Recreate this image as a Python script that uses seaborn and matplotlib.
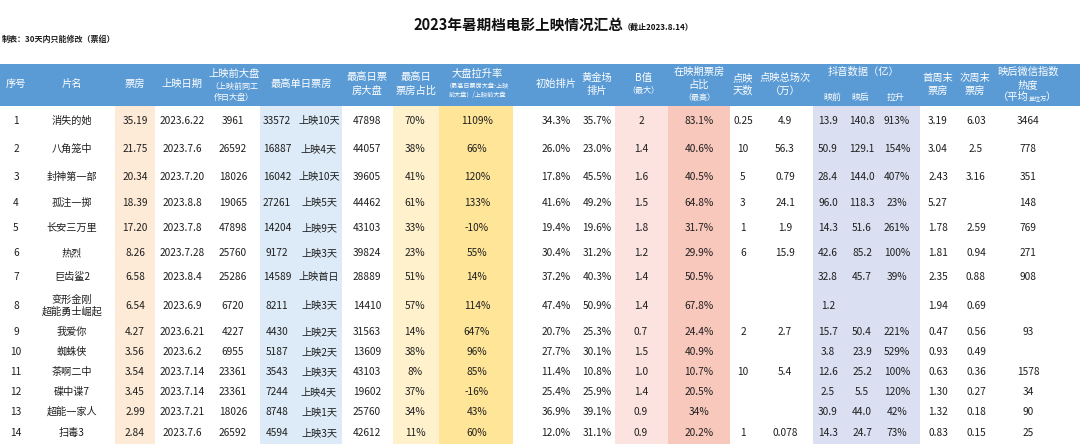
import matplotlib
matplotlib.use("Agg")
import matplotlib.pyplot as plt
import seaborn as sns
from matplotlib.patches import Rectangle

sns.set_theme(style="white")
plt.rcParams['font.family'] = ['Noto Sans CJK SC', 'DejaVu Sans']

# ---------------- data ----------------
seq = [str(i) for i in range(1, 15)]
names = ["消失的她", "八角笼中", "封神第一部", "孤注一掷", "长安三万里", "热烈", "巨齿鲨2",
         "变形金刚\n超能勇士崛起", "我爱你", "蜘蛛侠", "茶啊二中", "碟中谍7", "超能一家人", "扫毒3"]
box_office = ["35.19", "21.75", "20.34", "18.39", "17.20", "8.26", "6.58", "6.54", "4.27", "3.56",
              "3.54", "3.45", "2.99", "2.84"]
release_date = ["2023.6.22", "2023.7.6", "2023.7.20", "2023.8.8", "2023.7.8", "2023.7.28", "2023.8.4",
                "2023.6.9", "2023.6.21", "2023.6.2", "2023.7.14", "2023.7.14", "2023.7.21", "2023.7.6"]
pre_market = ["3961", "26592", "18026", "19065", "47898", "25760", "25286", "6720", "4227", "6955",
              "23361", "23361", "18026", "26592"]
max_day_box = ["33572", "16887", "16042", "27261", "14204", "9172", "14589", "8211", "4430", "5187",
               "3543", "7244", "8748", "4594"]
max_day_when = ["上映10天", "上映4天", "上映10天", "上映5天", "上映9天", "上映3天", "上映首日", "上映3天",
                "上映2天", "上映2天", "上映3天", "上映4天", "上映1天", "上映3天"]
max_day_market = ["47898", "44057", "39605", "44462", "43103", "39824", "28889", "14410", "31563",
                  "13609", "43103", "19602", "25760", "42612"]
max_day_share = ["70%", "38%", "41%", "61%", "33%", "23%", "51%", "57%", "14%", "38%", "8%", "37%",
                 "34%", "11%"]
market_lift = ["1109%", "66%", "120%", "133%", "-10%", "55%", "14%", "114%", "647%", "96%", "85%",
               "-16%", "43%", "60%"]
init_sched = ["34.3%", "26.0%", "17.8%", "41.6%", "19.4%", "30.4%", "37.2%", "47.4%", "20.7%", "27.7%",
              "11.4%", "25.4%", "36.9%", "12.0%"]
gold_sched = ["35.7%", "23.0%", "45.5%", "49.2%", "19.6%", "31.2%", "40.3%", "50.9%", "25.3%", "30.1%",
              "10.8%", "25.9%", "39.1%", "31.1%"]
b_value = ["2", "1.4", "1.6", "1.5", "1.8", "1.2", "1.4", "1.4", "0.7", "1.5", "1.0", "1.4", "0.9", "0.9"]
run_share = ["83.1%", "40.6%", "40.5%", "64.8%", "31.7%", "29.9%", "50.5%", "67.8%", "24.4%", "40.9%",
             "10.7%", "20.5%", "34%", "20.2%"]
preview_days = ["0.25", "10", "5", "3", "1", "6", "", "", "2", "", "10", "", "", "1"]
preview_shows = ["4.9", "56.3", "0.79", "24.1", "1.9", "15.9", "", "", "2.7", "", "5.4", "", "", "0.078"]
douyin_pre = ["13.9", "50.9", "28.4", "96.0", "14.3", "42.6", "32.8", "1.2", "15.7", "3.8", "12.6",
              "2.5", "30.9", "14.3"]
douyin_post = ["140.8", "129.1", "144.0", "118.3", "51.6", "85.2", "45.7", "", "50.4", "23.9", "25.2",
               "5.5", "44.0", "24.7"]
douyin_lift = ["913%", "154%", "407%", "23%", "261%", "100%", "39%", "", "221%", "529%", "100%",
               "120%", "42%", "73%"]
first_weekend = ["3.19", "3.04", "2.43", "5.27", "1.78", "1.81", "2.35", "1.94", "0.47", "0.93",
                 "0.63", "1.30", "1.32", "0.83"]
second_weekend = ["6.03", "2.5", "3.16", "", "2.59", "0.94", "0.88", "0.69", "0.56", "0.49", "0.36",
                  "0.27", "0.18", "0.15"]
wechat_index = ["3464", "778", "351", "148", "769", "271", "908", "", "93", "", "1578", "34", "90", "25"]

columns = [seq, names, box_office, release_date, pre_market, max_day_box, max_day_when,
           max_day_market, max_day_share, market_lift, init_sched, gold_sched, b_value, run_share,
           preview_days, preview_shows, douyin_pre, douyin_post, douyin_lift, first_weekend,
           second_weekend, wechat_index]

title = "2023年暑期档电影上映情况汇总"
subtitle = "（截止2023.8.14）"
note = "制表：30天内只能修改（票组）"

# ---------------- layout ----------------
W, H = 1080, 444
col_x = [16, 72, 135, 182, 233, 277, 319, 367, 415, 477, 556, 597, 641, 699, 743, 785,
         828, 862, 897, 938, 976, 1028]
row_edges = [106, 135, 163, 190, 215, 241, 265, 289, 322, 342, 362, 382, 402, 422, 444]
header_top, header_bot = 64, 106

bands = [  # (x0, x1, color)
    (115, 155, "#fdebd7"),
    (260, 342, "#dcebf7"),
    (393, 439, "#fff1cc"),
    (439, 513, "#ffe597"),
    (615, 668, "#fce3df"),
    (668, 730, "#f9c8bd"),
    (813, 920, "#dae0f2"),
]

fig = plt.figure(figsize=(W / 100, H / 100), dpi=100)
ax = fig.add_axes([0, 0, 1, 1])
ax.set_xlim(0, W)
ax.set_ylim(H, 0)
ax.axis("off")

for x0, x1, c in bands:
    ax.add_patch(Rectangle((x0, header_bot), x1 - x0, H - header_bot, color=c, lw=0, zorder=0))
ax.add_patch(Rectangle((0, header_top), W, header_bot - header_top, color="#5b9bd5", lw=0, zorder=1))

# titles
ax.text(623, 25, title, ha="right", va="center", fontsize=10.5, fontweight="bold", color="#111")
ax.text(623, 27, subtitle, ha="left", va="center", fontsize=5.8, fontweight="bold", color="#111")
ax.text(2, 39, note, ha="left", va="center", fontsize=5.8, fontweight="bold", color="#222")

# headers
hc = "#ffffff"
big, small, tiny = 7.4, 5.8, 4.4
headers = [  # (x, [(text, y, size), ...])
    (16, [("序号", 84, big)]),
    (72, [("片名", 84, big)]),
    (135, [("票房", 84, big)]),
    (182, [("上映日期", 84, big)]),
    (234, [("上映前大盘", 74, big), ("（上映前同工", 86, small), ("作日大盘）", 97, small)]),
    (301, [("最高单日票房", 84, big)]),
    (367, [("最高日票", 77, big), ("房大盘", 91, big)]),
    (416, [("最高日", 77, big), ("票房占比", 91, big)]),
    (477, [("大盘拉升率", 74, big), ("（最高日票房大盘-上映", 86, tiny), ("前大盘）/上映前大盘", 95, tiny)]),
    (556, [("初始排片", 84, big)]),
    (597, [("黄金场", 78, big), ("排片", 91, big)]),
    (643, [("B值", 78, big), ("（最大）", 90, small)]),
    (699, [("在映期票房", 72, big), ("占比", 85, big), ("（最高）", 97, small)]),
    (743, [("点映", 78, big), ("天数", 91, big)]),
    (785, [("点映总场次", 78, big), ("（万）", 91, big)]),
    (863, [("抖音数据（亿）", 72, big)]),
    (832, [("映前", 97, 6.4)]),
    (860, [("映后", 97, 6.4)]),
    (895, [("拉升", 97, 6.4)]),
    (938, [("首周末", 78, big), ("票房", 91, big)]),
    (975, [("次周末", 78, big), ("票房", 91, big)]),
    (1028, [("映后微信指数", 72, big), ("热度", 85, big)]),
]
for x, lines in headers:
    for t, y, s in lines:
        ax.text(x, y, t, ha="center", va="center", fontsize=s, color=hc, zorder=3)
ax.text(1029, 97, "（平均", ha="right", va="center", fontsize=big, color=hc, zorder=3)
ax.text(1029, 98, "单位万", ha="left", va="center", fontsize=tiny, color=hc, zorder=3)
ax.text(1046, 97, "）", ha="left", va="center", fontsize=big, color=hc, zorder=3)

# body
tc = "#1e1e1e"
for ci, col in enumerate(columns):
    for ri, val in enumerate(col):
        if not val:
            continue
        yc = (row_edges[ri] + row_edges[ri + 1]) / 2
        ax.text(col_x[ci], yc, val, ha="center", va="center", fontsize=7.3, color=tc,
                linespacing=1.15, zorder=3)

fig.savefig("out.png", dpi=100)
